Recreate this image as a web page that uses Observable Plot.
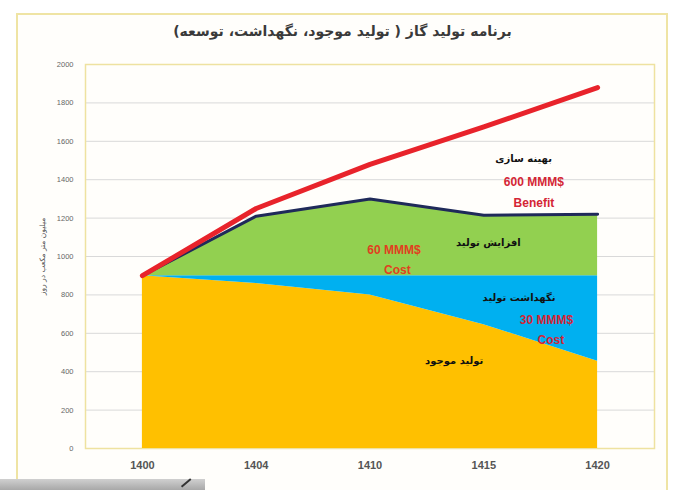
<!DOCTYPE html>
<html>
<head>
<meta charset="utf-8">
<script src="https://cdn.jsdelivr.net/npm/d3@7"></script>
<script src="https://cdn.jsdelivr.net/npm/@observablehq/plot@0.6"></script>
<style>
  html, body { margin: 0; padding: 0; background: #ffffff; width: 685px; height: 490px; overflow: hidden; }
  #wrap { position: relative; width: 685px; height: 490px; }
  #box { position: absolute; left: 16px; top: 13px; width: 652px; height: 490px; border: 2px solid #efe4a4; border-bottom: none; background: #fffefb; box-sizing: border-box; }
  #title { position: absolute; left: 0; top: 23px; width: 685px; text-align: center; font-family: "DejaVu Sans", sans-serif; font-size: 14px; font-weight: bold; color: #3a3a3a; direction: rtl; }
  #chart { position: absolute; left: 0; top: 0; }
  #shade { position: absolute; left: 0; top: 479px; width: 205px; height: 11px; background: linear-gradient(180deg, #d0d0d0, #a8a8a8); }
  #shade:after { content: ""; position: absolute; left: 180px; top: 3px; width: 12px; height: 1.5px; background: #333; transform: rotate(-40deg); }
</style>
</head>
<body>
<div id="wrap">
  <div id="box"></div>
  <div id="chart"></div>
  <div id="title">برنامه تولید گاز ( تولید موجود، نگهداشت، توسعه)</div>
  <div id="shade"></div>
</div>
<script>
// ---- data ----
const years = ["1400", "1404", "1410", "1415", "1420"];
const existing   = [900, 860, 800, 645, 455];   // تولید موجود
const maintained = [900, 900, 900, 900, 900];   // نگهداشت تولید (top)
const developed  = [900, 1210, 1300, 1215, 1220]; // افزایش تولید (top)
const optimized  = [900, 1250, 1480, 1675, 1880]; // بهینه سازی
const yTicks = [0, 200, 400, 600, 800, 1000, 1200, 1400, 1600, 1800, 2000];
const yLabel = "میلیون متر مکعب در روز";

// annotation texts
const noteTexts = ["بهینه سازی", "600 MMM$", "Benefit", "افزایش تولید", "60 MMM$", "Cost", "نگهداشت تولید", "30 MMM$", "Cost", "تولید موجود"];
// annotation layout (index position on x, value on y, style)
const noteX = [3.35, 3.44, 3.44, 3.04, 2.21, 2.24, 3.31, 3.55, 3.59, 2.74];
const noteY = [1510, 1385, 1276, 1073, 1031, 927, 786, 667, 562, 458];
const noteColor = ["#111", "#d42535", "#d42535", "#111", "#e0401f", "#e0401f", "#111", "#d42535", "#d42535", "#111"];

const rows = years.map((yr, i) => ({i, yr, existing: existing[i], maintained: maintained[i], developed: developed[i], optimized: optimized[i]}));
const notes = noteTexts.map((t, k) => ({t, x: noteX[k], y: noteY[k], c: noteColor[k], ar: /[\u0600-\u06FF]/.test(t)}));

const chart = Plot.plot({
  width: 685,
  height: 490,
  marginLeft: 85,
  marginRight: 31,
  marginTop: 64,
  marginBottom: 42,
  style: {background: "transparent"},
  x: {domain: [-0.5, 4.5]},
  y: {domain: [0, 2000]},
  marks: [
    Plot.gridY(yTicks, {stroke: "#d9d9d9", strokeOpacity: 1}),
    Plot.frame({stroke: "#eee2a0", strokeWidth: 1.5}),
    Plot.areaY(rows, {x: "i", y1: 0, y2: "existing", fill: "#ffc000"}),
    Plot.areaY(rows, {x: "i", y1: "existing", y2: "maintained", fill: "#00b0f0"}),
    Plot.areaY(rows, {x: "i", y1: "maintained", y2: "developed", fill: "#92d050"}),
    Plot.lineY(rows, {x: "i", y: "developed", stroke: "#1f2a5a", strokeWidth: 3}),
    Plot.lineY(rows, {x: "i", y: "optimized", stroke: "#e8232b", strokeWidth: 5, strokeLinecap: "round"}),
    Plot.text(notes.filter(d => d.ar), {x: "x", y: "y", text: "t", fill: "c", fontSize: 10, fontWeight: "bold", fontFamily: "DejaVu Sans"}),
    Plot.text(notes.filter(d => !d.ar), {x: "x", y: "y", text: "t", fill: "c", fontSize: 12, fontWeight: "bold", fontFamily: "Liberation Sans"}),
    Plot.axisX(years.map((_, i) => i), {tickFormat: i => years[i], tickSize: 0, tickPadding: 13, fontSize: 11, fill: "#555", label: null, fontFamily: "Liberation Sans", fontWeight: "bold"}),
    Plot.axisY(yTicks, {tickFormat: d3.format("d"), tickSize: 0, tickPadding: 12, fontSize: 7.5, fill: "#666", label: null, fontFamily: "Liberation Sans"}),
    Plot.text([yLabel], {frameAnchor: "left", textAnchor: "middle", dx: -43, rotate: -90, fontSize: 7.5, fill: "#555", fontFamily: "DejaVu Sans"})
  ]
});
document.getElementById("chart").appendChild(chart);
</script>
</body>
</html>
